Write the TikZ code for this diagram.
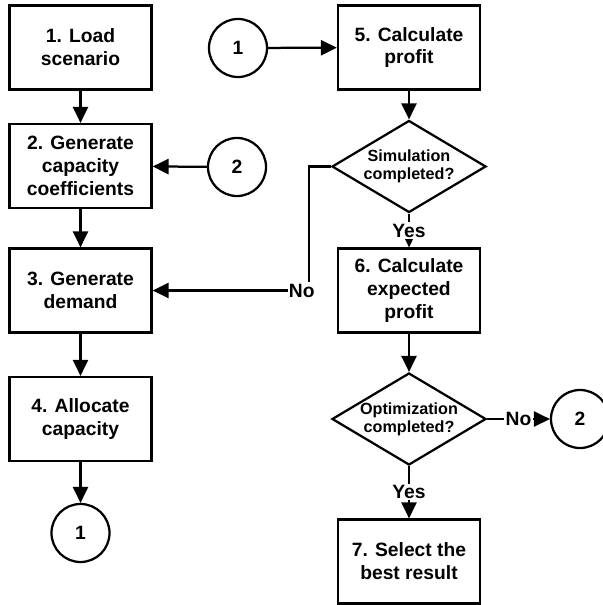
\documentclass[tikz,border=0pt]{standalone}
\usepackage{fontspec}
\setmainfont{Liberation Sans}
\usetikzlibrary{shapes,arrows.meta,positioning,calc}

\begin{document}
\begin{tikzpicture}[x=0.025cm, y=-0.025cm, line width=1.6pt,
    stepbox/.style={rectangle, draw, minimum width=3.55cm, minimum height=2.1cm, align=center, font=\fontsize{13.7}{16.3}\selectfont\bfseries},
    decision/.style={diamond, draw, shape aspect=1.67, inner sep=0pt, minimum width=3.85cm, minimum height=2.3cm, align=center, font=\fontsize{11.5}{12.8}\selectfont\bfseries},
    connector/.style={circle, draw, minimum size=1.45cm, inner sep=0pt, font=\fontsize{13.7}{16.3}\selectfont\bfseries},
    lbl/.style={fill=white, inner sep=1pt, font=\fontsize{13.7}{16.3}\selectfont\bfseries},
    arr/.style={-{Triangle[length=0.4cm, width=0.38cm]}}]
    \useasboundingbox (0,0) rectangle (603,605);

    % left column
    \node[stepbox] (b1) at (80.5,47.5) {1. Load\\scenario};
    \node[stepbox] (b2) at (80.5,166) {2. Generate\\capacity\\coefficients};
    \node[stepbox] (b3) at (80.5,290.5) {3. Generate\\demand};
    \node[stepbox] (b4) at (80.5,419) {4. Allocate\\capacity};
    \node[connector] (c1out) at (80.5,533) {1};

    % off-page connectors in the middle
    \node[connector] (c1in) at (238,48) {1};
    \node[connector] (c2in) at (237,167) {2};

    % right column
    \node[stepbox] (b5) at (409,47.5) {5. Calculate\\profit};
    \node[decision] (sim) at (409,166.5) {Simulation\\completed?};
    \node[stepbox] (b6) at (409,290.5) {6. Calculate\\expected\\profit};
    \node[decision] (opt) at (409,419) {Optimization\\completed?};
    \node[stepbox] (b7) at (409,561.5) {7. Select the\\best result};
    \node[connector] (c2out) at (580,419) {2};

    \draw[arr] (b1) -- (b2);
    \draw[arr] (b2) -- (b3);
    \draw[arr] (b3) -- (b4);
    \draw[arr] (b4) -- (c1out);
    \draw[arr] (c2in) -- (b2);
    \draw[arr] (c1in) -- (b5);
    \draw[arr] (b5) -- (sim);
    \draw[arr] (sim) -- node[lbl] {Yes} (b6);
    \draw[arr] (sim.west) -- ++(-22,0) |- node[lbl, pos=0.5, xshift=-5pt] {No} (b3);
    \draw[arr] (b6) -- (opt);
    \draw[arr] (opt) -- node[lbl] {Yes} (b7);
    \draw[arr] (opt) -- node[lbl] {No} (c2out);
\end{tikzpicture}
\end{document}
